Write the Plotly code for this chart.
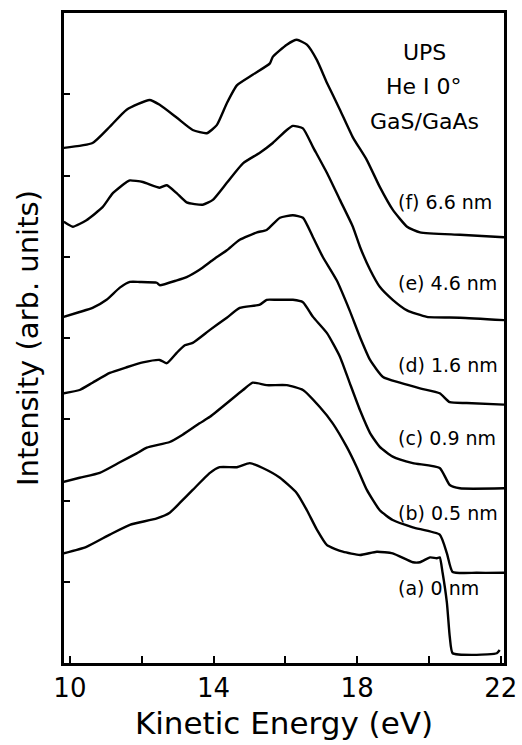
import plotly.graph_objects as go

# Spectra (kinetic energy in eV, intensity in arbitrary offset units)
e_a = [9.83, 10.46, 11.11, 11.67, 12.42, 12.78, 13.06, 13.42, 13.90, 14.17, 14.65, 15.01, 15.37, 15.85,
       16.32, 16.60, 16.88, 17.16, 17.60, 18.08, 18.55, 18.99, 19.55, 19.75, 20.03, 20.22, 20.30, 20.38,
       20.50, 20.58, 20.66, 21.33, 21.89, 21.97]
i_a = [1.35, 1.43, 1.58, 1.70, 1.78, 1.85, 1.97, 2.13, 2.34, 2.41, 2.41, 2.46, 2.40, 2.28,
       2.09, 1.88, 1.64, 1.45, 1.37, 1.33, 1.37, 1.35, 1.24, 1.24, 1.30, 1.29, 1.30, 1.11,
       0.74, 0.32, 0.12, 0.10, 0.12, 0.16]

e_b = [9.83, 10.27, 10.83, 11.39, 11.86, 12.14, 12.78, 13.14, 13.61, 13.90, 14.82, 15.09, 15.48, 16.04,
       16.49, 16.96, 17.32, 17.71, 17.99, 18.27, 18.63, 18.99, 19.55, 20.30, 20.50, 20.66, 21.33, 22.09]
i_b = [2.23, 2.28, 2.34, 2.47, 2.58, 2.65, 2.72, 2.81, 2.95, 3.03, 3.36, 3.45, 3.42, 3.42,
       3.36, 3.15, 2.95, 2.66, 2.41, 2.13, 1.88, 1.76, 1.67, 1.58, 1.35, 1.12, 1.11, 1.11]

e_c = [9.83, 10.27, 10.63, 11.11, 11.58, 12.03, 12.50, 12.70, 12.98, 13.20, 13.42, 13.90, 14.37, 14.73,
       15.29, 15.48, 15.76, 16.21, 16.49, 16.77, 17.16, 17.52, 17.79, 18.08, 18.36, 18.63, 18.99, 19.55,
       20.30, 20.58, 20.86, 22.09]
i_c = [3.32, 3.36, 3.45, 3.57, 3.64, 3.70, 3.73, 3.69, 3.82, 3.91, 3.94, 4.10, 4.25, 4.37,
       4.41, 4.47, 4.47, 4.47, 4.44, 4.26, 4.06, 3.77, 3.45, 3.11, 2.83, 2.66, 2.54, 2.46,
       2.40, 2.19, 2.15, 2.15]

e_d = [9.83, 10.27, 10.63, 11.02, 11.39, 11.67, 11.94, 12.42, 12.50, 12.98, 13.25, 13.61, 13.98, 14.37,
       14.73, 15.21, 15.48, 15.85, 16.21, 16.49, 16.77, 17.04, 17.43, 17.79, 18.08, 18.36, 18.72, 19.19,
       19.75, 20.30, 20.58, 21.05, 22.09]
i_d = [4.26, 4.32, 4.37, 4.47, 4.62, 4.69, 4.69, 4.68, 4.65, 4.71, 4.75, 4.84, 4.96, 5.08,
       5.21, 5.30, 5.33, 5.48, 5.51, 5.48, 5.24, 5.00, 4.71, 4.34, 4.01, 3.73, 3.52, 3.45,
       3.38, 3.32, 3.21, 3.20, 3.18]

e_e = [9.83, 10.08, 10.46, 10.91, 11.19, 11.58, 11.67, 12.03, 12.50, 12.70, 12.98, 13.25, 13.70, 13.98,
       14.37, 14.82, 15.29, 15.65, 16.04, 16.21, 16.49, 16.77, 17.16, 17.52, 17.88, 18.08, 18.36, 18.63,
       18.99, 19.39, 19.94, 20.86, 22.09]
i_e = [5.43, 5.37, 5.45, 5.61, 5.78, 5.92, 5.94, 5.92, 5.85, 5.88, 5.78, 5.67, 5.64, 5.70,
       5.91, 6.15, 6.28, 6.40, 6.56, 6.61, 6.58, 6.35, 6.03, 5.70, 5.37, 5.12, 4.84, 4.63,
       4.47, 4.34, 4.26, 4.25, 4.22]

e_f = [9.83, 10.63, 11.11, 11.58, 12.22, 12.50, 12.98, 13.42, 13.81, 14.09, 14.37, 14.65, 15.09, 15.57,
       15.65, 16.04, 16.32, 16.60, 16.88, 17.16, 17.52, 17.88, 18.27, 18.63, 18.99, 19.39, 19.75, 20.86, 22.09]
i_f = [6.34, 6.40, 6.60, 6.81, 6.93, 6.87, 6.71, 6.56, 6.52, 6.62, 6.89, 7.11, 7.24, 7.38,
       7.46, 7.61, 7.67, 7.61, 7.42, 7.14, 6.81, 6.47, 6.19, 5.86, 5.58, 5.37, 5.30, 5.27, 5.24]

series = [(e_a, i_a), (e_b, i_b), (e_c, i_c), (e_d, i_d), (e_e, i_e), (e_f, i_f)]

curve_labels = ["(a) 0 nm", "(b) 0.5 nm", "(c) 0.9 nm", "(d) 1.6 nm", "(e) 4.6 nm", "(f) 6.6 nm"]
label_y = [0.92, 1.85, 2.77, 3.67, 4.68, 5.67]
label_x = 19.08

header_lines = ["UPS", "He I 0°", "GaS/GaAs"]
header_y = [7.51, 7.09, 6.67]
header_x = 19.87

x_tickvals = [10, 12, 14, 16, 18, 20, 22]
x_ticktext = ["10", "", "14", "", "18", "", "22"]
y_tickvals = [1, 2, 3, 4, 5, 6, 7]

FONT = "DejaVu Sans"

fig = go.Figure()
for ex, iy in series:
    fig.add_trace(go.Scatter(x=ex, y=iy, mode="lines",
                             line=dict(color="black", width=2.4, shape="spline", smoothing=0.5),
                             showlegend=False, hoverinfo="skip"))

annotations = []
for txt, yy in zip(curve_labels, label_y):
    annotations.append(dict(x=label_x, y=yy, xref="x", yref="y", text=txt, showarrow=False,
                            xanchor="left", yanchor="middle",
                            font=dict(family=FONT, size=19, color="black")))
for txt, yy in zip(header_lines, header_y):
    annotations.append(dict(x=header_x, y=yy, xref="x", yref="y", text=txt, showarrow=False,
                            xanchor="center", yanchor="middle",
                            font=dict(family=FONT, size=22, color="black")))

fig.update_layout(
    width=522, height=745,
    margin=dict(l=64, r=18, t=13, b=82, pad=0),
    paper_bgcolor="white", plot_bgcolor="white",
    font=dict(family=FONT, color="black"),
    annotations=annotations,
    xaxis=dict(range=[9.835, 22.09], tickvals=x_tickvals, ticktext=x_ticktext,
               automargin=False,
               ticks="inside", ticklen=7, tickwidth=2, tickcolor="black",
               showline=True, linecolor="black", linewidth=3, mirror=True,
               showgrid=False, zeroline=False,
               tickfont=dict(family=FONT, size=26, color="black"),
               title=dict(text="Kinetic Energy (eV)", standoff=11,
                          font=dict(family=FONT, size=31, color="black"))),
    yaxis=dict(range=[0, 8], tickvals=y_tickvals, showticklabels=False,
               automargin=False,
               ticks="inside", ticklen=6, tickwidth=2, tickcolor="black",
               showline=True, linecolor="black", linewidth=3, mirror=True,
               showgrid=False, zeroline=False,
               title=dict(text="Intensity (arb. units)", standoff=14,
                          font=dict(family=FONT, size=29, color="black"))),
)

fig.write_html("out.html")
